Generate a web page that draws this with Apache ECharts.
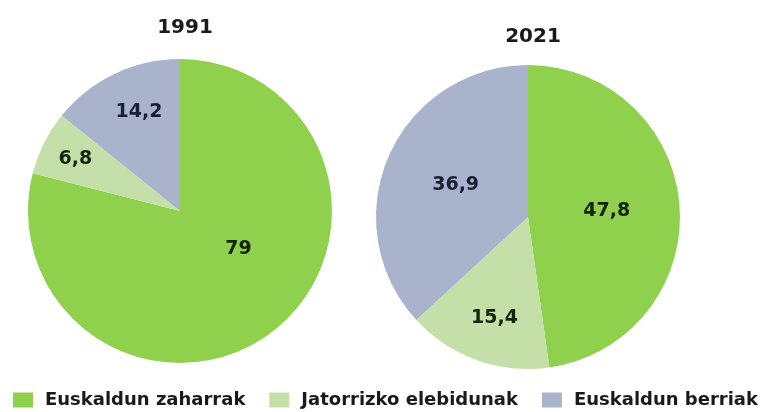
<!DOCTYPE html>
<html>
<head>
<meta charset="utf-8">
<script src="https://cdn.jsdelivr.net/npm/echarts@6/dist/echarts.min.js"></script>
<style>
html,body{margin:0;padding:0;background:#fff;}
#chart{width:761px;height:412px;}
</style>
</head>
<body>
<div id="chart"></div>
<script>
var categories = ['Euskaldun zaharrak', 'Jatorrizko elebidunak', 'Euskaldun berriak'];
var years = ['1991', '2021'];
var values1991 = [79, 6.8, 14.2];
var values2021 = [47.8, 15.4, 36.9];

var colors = ['#8fd14d', '#c4e0a8', '#a9b3cc'];
var labelColors = ['#15240c', '#15240c', '#1b1f35'];
var FONT = 'DejaVu Sans';

// label nudges (style only)
var nudge1991 = [[10, -24], [-34, -17], [-7, -28]];
var nudge2021 = [[0, 0], [-7, 27], [0, 0]];

function fmt(v) { return String(v).replace('.', ','); }

function buildData(vals, nudges) {
  return vals.map(function (v, i) {
    return {
      name: categories[i],
      value: v,
      label: { offset: nudges[i], color: labelColors[i] }
    };
  });
}

var chart = echarts.init(document.getElementById('chart'), null, { renderer: 'canvas' });
chart.setOption({
  animation: false,
  color: colors,
  title: [
    { text: years[0], left: 180, top: 13, textAlign: 'center',
      textStyle: { fontFamily: FONT, fontSize: 20, fontWeight: 'bold', color: '#1a1a1a' } },
    { text: years[1], left: 528, top: 22, textAlign: 'center',
      textStyle: { fontFamily: FONT, fontSize: 20, fontWeight: 'bold', color: '#1a1a1a' } }
  ],
  legend: {
    data: categories,
    left: 8,
    top: 386,
    width: 752,
    padding: [5, 0, 5, 5],
    itemWidth: 20,
    itemHeight: 15,
    itemGap: 24,
    icon: 'rect',
    textStyle: { fontFamily: FONT, fontSize: 18, fontWeight: 'bold', color: '#1a1a1a', padding: [0, 0, 0, 7] }
  },
  series: [
    {
      type: 'pie',
      center: [180, 211],
      radius: 152,
      startAngle: 90,
      clockwise: true,
      label: {
        position: 'inside',
        fontFamily: FONT, fontSize: 19, fontWeight: 'bold',
        formatter: function (p) { return fmt(p.value); }
      },
      labelLine: { show: false },
      emphasis: { disabled: true },
      data: buildData(values1991, nudge1991)
    },
    {
      type: 'pie',
      center: [528, 217],
      radius: 152,
      startAngle: 90,
      clockwise: true,
      label: {
        position: 'inside',
        fontFamily: FONT, fontSize: 19, fontWeight: 'bold',
        formatter: function (p) { return fmt(p.value); }
      },
      labelLine: { show: false },
      emphasis: { disabled: true },
      data: buildData(values2021, nudge2021)
    }
  ]
});
</script>
</body>
</html>
